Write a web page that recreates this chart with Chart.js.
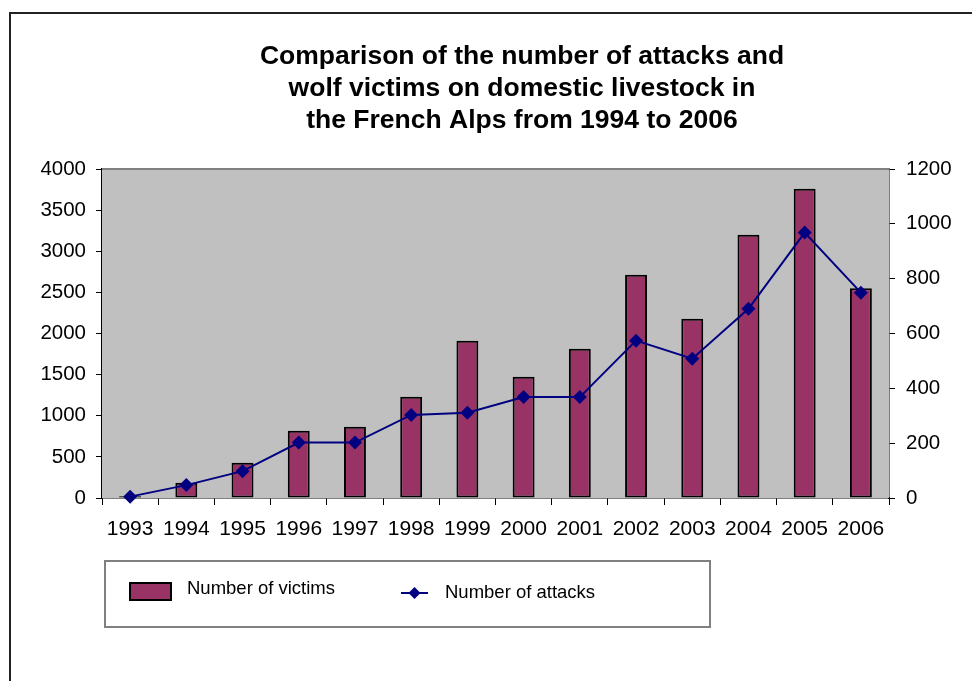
<!DOCTYPE html>
<html>
<head>
<meta charset="utf-8">
<script src="https://cdn.jsdelivr.net/npm/chart.js@4/dist/chart.umd.min.js"></script>
<style>
    body { margin: 0; background: #fff; }
    canvas { display: block; }
</style>
</head>
<body>
<canvas id="wolf-chart" width="972" height="681"></canvas>
<script>
const years = ['1993', '1994', '1995', '1996', '1997', '1998', '1999', '2000', '2001', '2002', '2003', '2004', '2005', '2006'];
const victims = [20, 186, 429, 818, 867, 1232, 1912, 1475, 1815, 2715, 2180, 3201, 3760, 2550];
const attacks = [5, 47, 98, 202, 202, 303, 311, 368, 368, 574, 508, 690, 968, 749];
const titleLines = ['Comparison of the number of attacks and', 'wolf victims on domestic livestock in', 'the French Alps from 1994 to 2006'];

const FONT = '"Liberation Sans", Arial, sans-serif';

// grey plot area, outer frame, title and boxed legend
const decorations = {
    id: 'decorations',
    beforeDatasetsDraw(chart) {
        const { ctx, chartArea: a } = chart;
        ctx.save();
        ctx.fillStyle = '#C0C0C0';
        ctx.fillRect(a.left, a.top, a.right - a.left, a.bottom - a.top);
        ctx.strokeStyle = '#808080';
        ctx.lineWidth = 2;
        ctx.beginPath();
        ctx.moveTo(a.left, a.top);
        ctx.lineTo(a.right, a.top);
        ctx.stroke();
        ctx.restore();
    },
    afterDraw(chart) {
        const ctx = chart.ctx;
        ctx.save();

        ctx.strokeStyle = '#222';
        ctx.lineWidth = 2;
        ctx.beginPath();
        ctx.moveTo(10, 681);
        ctx.lineTo(10, 13);
        ctx.lineTo(972, 13);
        ctx.stroke();

        ctx.fillStyle = '#000';
        ctx.font = 'bold 26.5px ' + FONT;
        ctx.textAlign = 'center';
        ctx.textBaseline = 'middle';
        titleLines.forEach((line, i) => ctx.fillText(line, 522, 57 + i * 32));

        // legend
        const bar = chart.data.datasets[0];
        const line = chart.data.datasets[1];
        ctx.strokeStyle = '#808080';
        ctx.lineWidth = 2;
        ctx.strokeRect(105, 561, 605, 66);

        ctx.fillStyle = bar.backgroundColor;
        ctx.fillRect(130, 583, 41, 17);
        ctx.strokeStyle = '#000';
        ctx.strokeRect(130, 583, 41, 17);

        ctx.strokeStyle = line.borderColor;
        ctx.beginPath();
        ctx.moveTo(401, 593);
        ctx.lineTo(428, 593);
        ctx.stroke();
        ctx.fillStyle = line.borderColor;
        ctx.beginPath();
        ctx.moveTo(414.5, 587);
        ctx.lineTo(420.5, 593);
        ctx.lineTo(414.5, 599);
        ctx.lineTo(408.5, 593);
        ctx.closePath();
        ctx.fill();

        ctx.fillStyle = '#000';
        ctx.font = '18.5px ' + FONT;
        ctx.textAlign = 'left';
        ctx.fillText(bar.label, 187, 589);
        ctx.fillText(line.label, 445, 593);
        ctx.restore();
    }
};

const plainNumber = value => String(value);

const ctx = document.getElementById('wolf-chart').getContext('2d');
new Chart(ctx, {
    type: 'bar',
    data: {
        labels: years,
        datasets: [
            {
                type: 'bar',
                label: 'Number of victims',
                data: victims,
                backgroundColor: '#993366',
                borderColor: '#000',
                borderWidth: 2,
                borderSkipped: false,
                barPercentage: 0.39,
                categoryPercentage: 1,
                yAxisID: 'y',
                order: 2
            },
            {
                type: 'line',
                label: 'Number of attacks',
                data: attacks,
                borderColor: '#000080',
                backgroundColor: '#000080',
                borderWidth: 2,
                pointStyle: 'rectRot',
                pointRadius: 7,
                pointBorderWidth: 0,
                tension: 0,
                clip: false,
                yAxisID: 'y1',
                order: 1
            }
        ]
    },
    options: {
        responsive: false,
        animation: false,
        layout: { padding: { top: 169, left: 0, right: 0, bottom: 0 } },
        plugins: {
            legend: { display: false },
            title: { display: false },
            tooltip: { enabled: false }
        },
        scales: {
            x: {
                grid: { display: true, drawOnChartArea: false, offset: true, tickLength: 7, color: '#000' },
                border: { color: '#000', width: 1.5 },
                ticks: { color: '#000', font: { family: FONT, size: 21 }, padding: 12 },
                afterFit(scale) { scale.height = 183; }
            },
            y: {
                position: 'left',
                min: 0,
                max: 4000,
                ticks: { stepSize: 500, color: '#000', font: { family: FONT, size: 20.5 }, padding: 10, callback: plainNumber },
                grid: { drawOnChartArea: false, tickLength: 6, color: '#000' },
                border: { color: '#000', width: 1.5 },
                afterFit(scale) { scale.width = 102; }
            },
            y1: {
                position: 'right',
                min: 0,
                max: 1200,
                ticks: { stepSize: 200, color: '#000', font: { family: FONT, size: 20.5 }, padding: 11, callback: plainNumber },
                grid: { drawOnChartArea: false, tickLength: 6, color: '#000' },
                border: { color: '#000', width: 1.5 },
                afterFit(scale) { scale.width = 83; }
            }
        }
    },
    plugins: [decorations]
});
</script>
</body>
</html>
